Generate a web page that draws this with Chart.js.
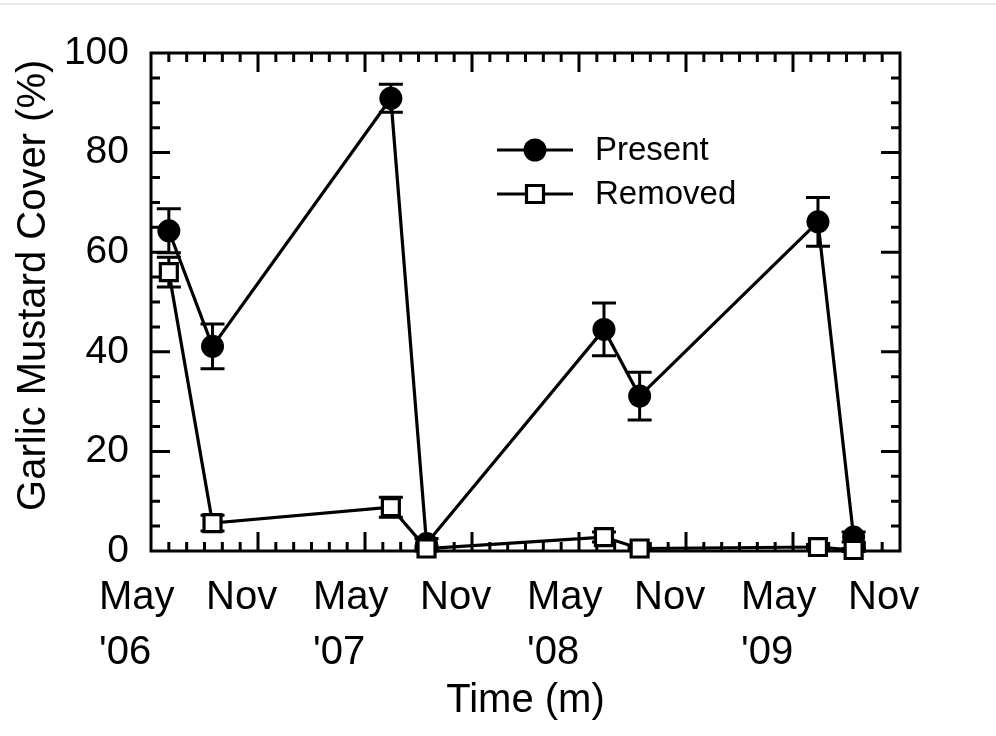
<!DOCTYPE html>
<html>
<head>
<meta charset="utf-8">
<title>Garlic Mustard Cover</title>
<script src="https://cdn.jsdelivr.net/npm/chart.js@4.4.1/dist/chart.umd.min.js"></script>
<style>
  html, body { margin: 0; padding: 0; background: #fff; }
  #wrap { position: relative; width: 996px; height: 736px; }
  #topline { position: absolute; left: 0; top: 3px; width: 996px; height: 2px; background: #eeeae1; }
  canvas { display: block; }
</style>
</head>
<body>
<div id="wrap">
  <div id="topline"></div>
  <canvas id="coverChart" width="996" height="736"></canvas>
</div>
<script>
// sampling dates, in months counted from May 2006
const sampleMonths = [1.0, 3.45, 13.45, 15.45, 25.4, 27.4, 37.4, 39.4];
const presentCover = [64.3, 41.1, 90.9, 1.5, 44.5, 31.1, 66.1, 2.8];
const presentErr = [4.4, 4.5, 2.8, 1.0, 5.3, 4.8, 4.9, 1.0];
const removedCover = [56.0, 5.6, 8.8, 0.5, 2.8, 0.5, 0.8, 0.2];
const removedErr = [3.0, 1.6, 2.0, 0.5, 1.0, 0.3, 0.5, 0.3];
const xTickLabels = [['May', "'06"], ['Nov'], ['May', "'07"], ['Nov'], ['May', "'08"], ['Nov'], ['May', "'09"], ['Nov']];
const seriesNames = ['Present', 'Removed'];

const FONT = "'Liberation Sans', Arial, sans-serif";

function toPoints(values) {
  return values.map((v, i) => ({ x: sampleMonths[i], y: v }));
}

// boxed axes with inward major/minor ticks on all four sides
const frameTicks = {
  id: 'frameTicks',
  beforeDatasetsDraw(chart) {
    const { ctx, chartArea: a, scales: { x, y } } = chart;
    ctx.save();
    ctx.strokeStyle = '#000';
    ctx.lineWidth = 3;
    ctx.lineCap = 'butt';
    ctx.beginPath();
    for (let m = 1; m < 42; m++) {
      const px = x.getPixelForValue(m);
      const len = m % 6 === 0 ? 19 : 9;
      ctx.moveTo(px, a.bottom); ctx.lineTo(px, a.bottom - len);
      ctx.moveTo(px, a.top); ctx.lineTo(px, a.top + len);
    }
    for (let v = 5; v < 100; v += 5) {
      const py = y.getPixelForValue(v);
      const len = v % 20 === 0 ? 19 : 9;
      ctx.moveTo(a.left, py); ctx.lineTo(a.left + len, py);
      ctx.moveTo(a.right, py); ctx.lineTo(a.right - len, py);
    }
    ctx.stroke();
    ctx.strokeRect(a.left, a.top, a.right - a.left, a.bottom - a.top);
    ctx.restore();
  }
};

// standard error bars, drawn under the markers
const errorBars = {
  id: 'errorBars',
  beforeDatasetsDraw(chart) {
    const { ctx, scales: { x, y } } = chart;
    const sets = [[presentCover, presentErr], [removedCover, removedErr]];
    ctx.save();
    ctx.strokeStyle = '#000';
    ctx.lineWidth = 3;
    sets.forEach(([vals, errs]) => {
      vals.forEach((v, i) => {
        const px = x.getPixelForValue(sampleMonths[i]);
        const hi = y.getPixelForValue(v + errs[i]);
        const lo = y.getPixelForValue(v - errs[i]);
        ctx.beginPath();
        ctx.moveTo(px, hi); ctx.lineTo(px, lo);
        ctx.moveTo(px - 12, hi); ctx.lineTo(px + 12, hi);
        ctx.moveTo(px - 12, lo); ctx.lineTo(px + 12, lo);
        ctx.stroke();
      });
    });
    ctx.restore();
  }
};

const insetLegend = {
  id: 'insetLegend',
  afterDatasetsDraw(chart) {
    const ctx = chart.ctx;
    const rows = [150, 194];
    ctx.save();
    ctx.strokeStyle = '#000';
    ctx.lineWidth = 3.2;
    ctx.font = '33px ' + FONT;
    ctx.fillStyle = '#000';
    ctx.textBaseline = 'middle';
    rows.forEach((ry, i) => {
      ctx.beginPath();
      ctx.moveTo(497, ry); ctx.lineTo(573, ry);
      ctx.stroke();
      ctx.beginPath();
      if (i === 0) {
        ctx.arc(535, ry, 11.5, 0, Math.PI * 2);
        ctx.fillStyle = '#000';
        ctx.fill();
      } else {
        ctx.rect(526.5, ry - 8.5, 17, 17);
        ctx.fillStyle = '#fff';
        ctx.fill();
        ctx.stroke();
      }
      ctx.fillStyle = '#000';
      ctx.fillText(seriesNames[i], 595, ry + 1);
    });
    ctx.restore();
  }
};

const ctx = document.getElementById('coverChart').getContext('2d');
new Chart(ctx, {
  type: 'line',
  data: {
    datasets: [
      {
        label: seriesNames[0],
        data: toPoints(presentCover),
        borderColor: '#000',
        borderWidth: 3.2,
        pointStyle: 'circle',
        pointRadius: 11.5,
        pointBackgroundColor: '#000',
        pointBorderColor: '#000',
        pointBorderWidth: 0,
        tension: 0,
        clip: false,
        order: 2
      },
      {
        label: seriesNames[1],
        data: toPoints(removedCover),
        borderColor: '#000',
        borderWidth: 3.2,
        pointStyle: 'rect',
        pointRadius: 12,
        pointBackgroundColor: '#fff',
        pointBorderColor: '#000',
        pointBorderWidth: 3.2,
        tension: 0,
        clip: false,
        order: 1
      }
    ]
  },
  options: {
    responsive: false,
    animation: false,
    events: [],
    layout: { padding: { top: 53, right: 96, left: 0, bottom: 0 } },
    plugins: {
      legend: { display: false },
      tooltip: { enabled: false }
    },
    scales: {
      x: {
        type: 'linear',
        min: 0,
        max: 42,
        grid: { display: false, drawTicks: false },
        border: { display: false },
        ticks: {
          stepSize: 6,
          autoSkip: false,
          maxRotation: 0,
          align: 'start',
          labelOffset: -52,
          padding: 19,
          color: '#000',
          font: { family: FONT, size: 40, lineHeight: 1.375 },
          callback: (v) => xTickLabels[v / 6]
        },
        title: {
          display: true,
          text: 'Time (m)',
          color: '#000',
          font: { family: FONT, size: 40 },
          padding: { top: 0, bottom: 11 }
        },
        afterFit(scale) {
          scale.height = 185;
          scale.paddingLeft = 0;
          scale.paddingRight = 0;
        }
      },
      y: {
        min: 0,
        max: 100,
        grid: { display: false, drawTicks: false },
        border: { display: false },
        ticks: {
          stepSize: 20,
          padding: 22,
          color: '#000',
          font: { family: FONT, size: 39 }
        },
        title: {
          display: true,
          // leading spaces nudge the centred title toward the top
          text: '   Garlic Mustard Cover (%)',
          color: '#000',
          font: { family: FONT, size: 40 },
          padding: { top: 10, bottom: 0 }
        },
        afterFit(scale) {
          scale.width = 151;
          scale.paddingTop = 0;
          scale.paddingBottom = 0;
        }
      }
    }
  },
  plugins: [frameTicks, errorBars, insetLegend]
});
</script>
</body>
</html>
